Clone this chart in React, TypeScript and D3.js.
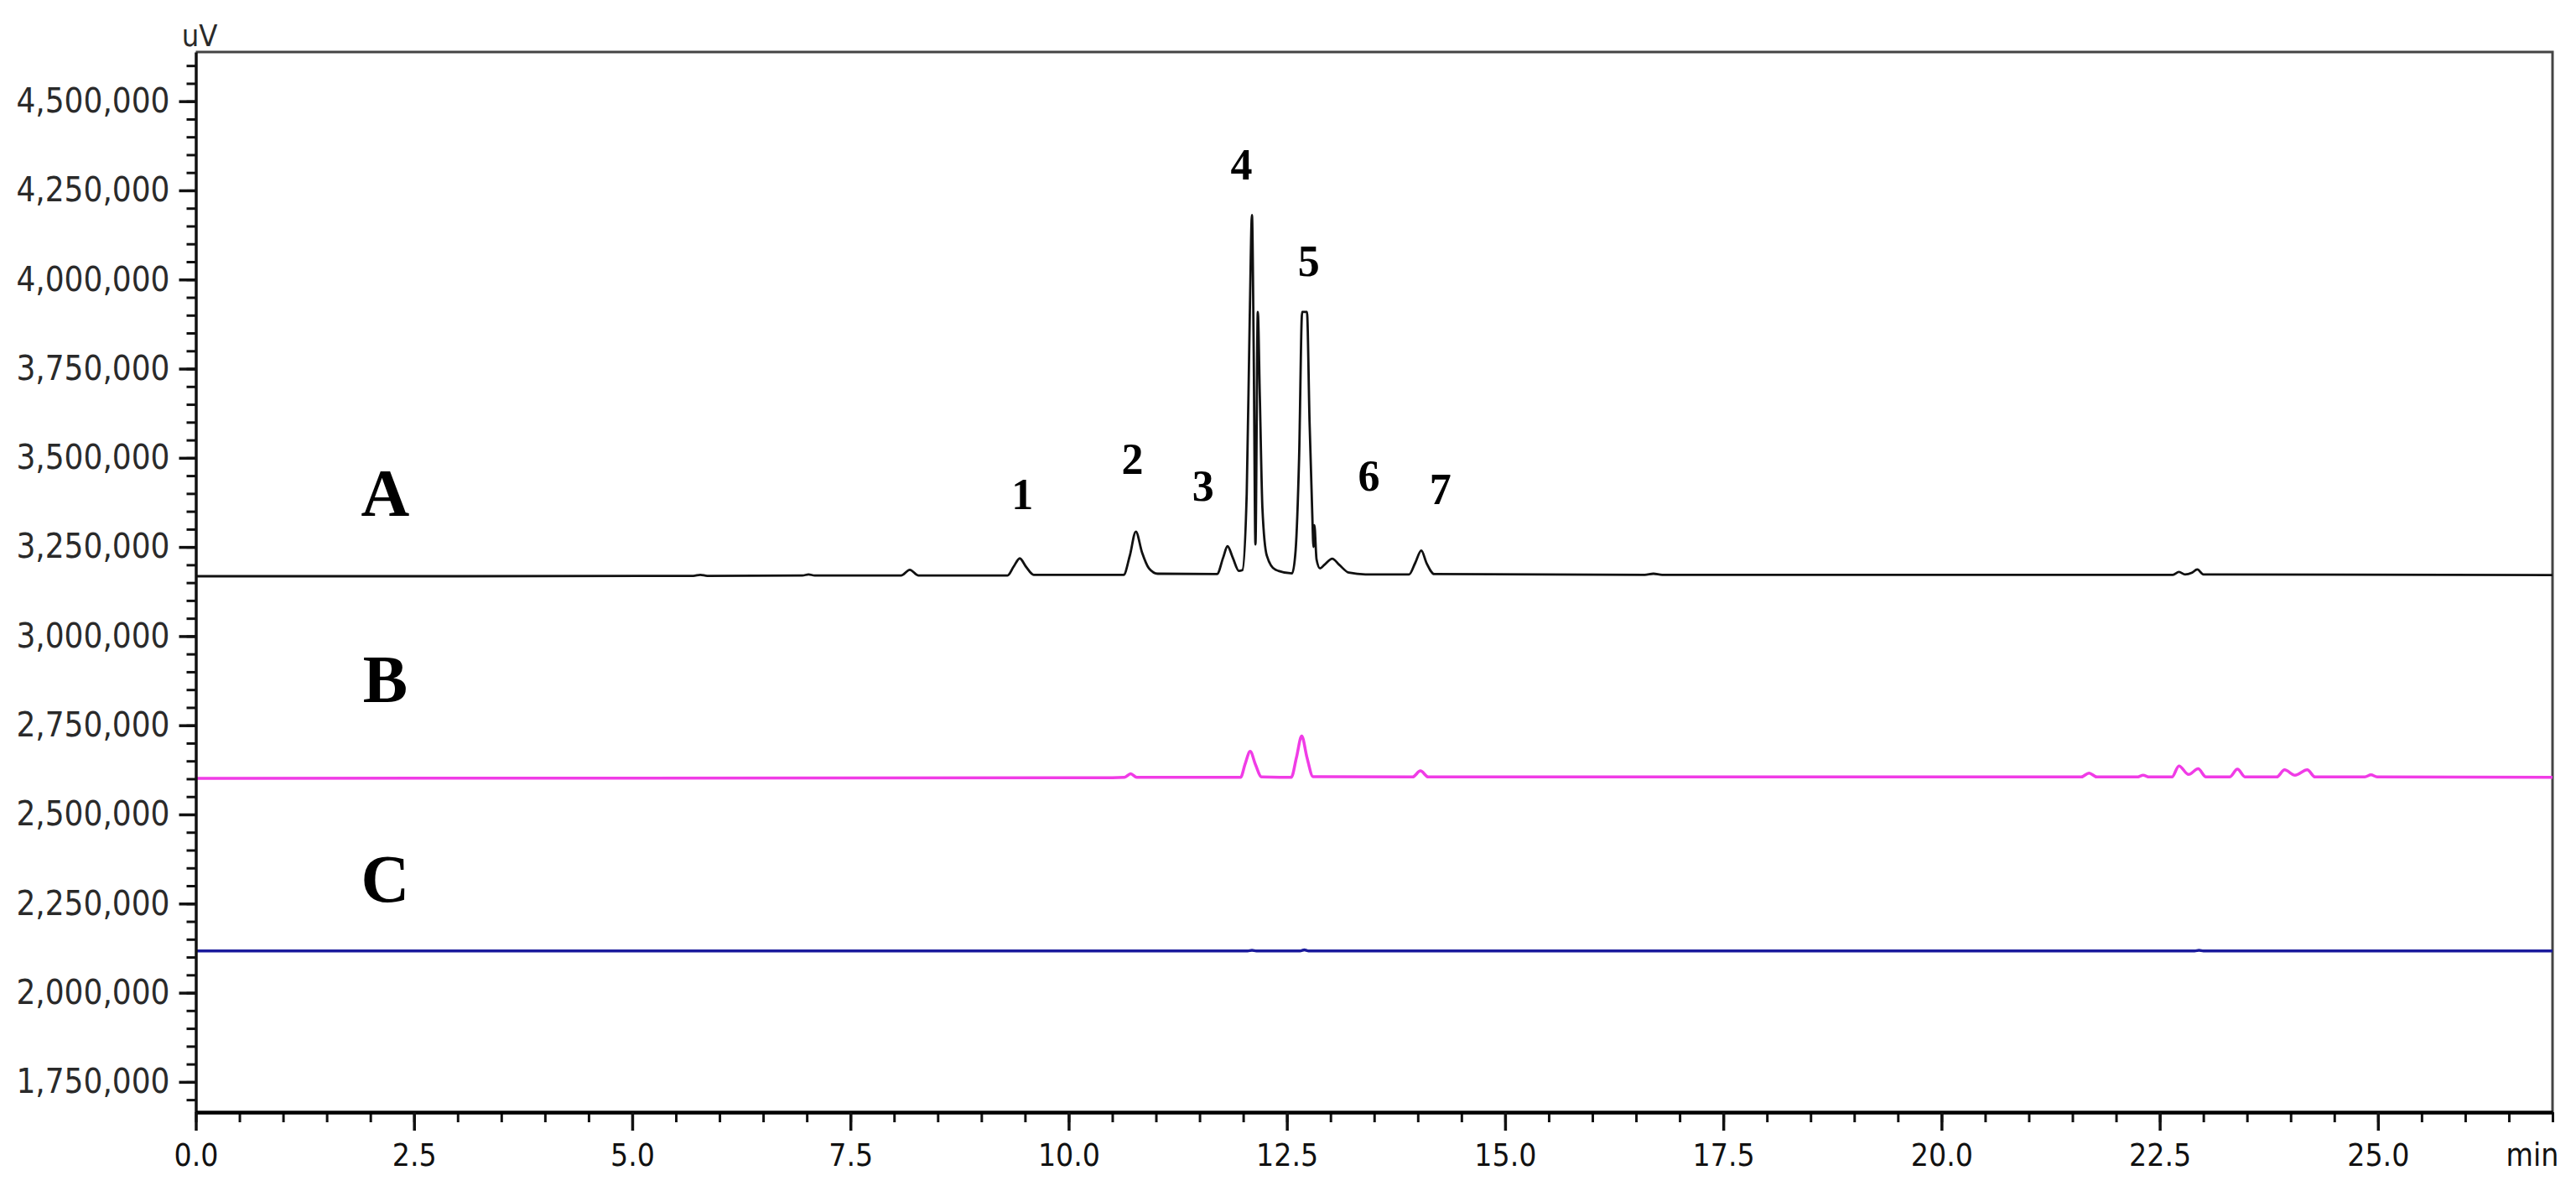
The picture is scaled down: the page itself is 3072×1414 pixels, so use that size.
import React, { useRef, useEffect } from 'react';
import * as d3 from 'd3';

// axis ranges (min, uV)
const xDomain = [0, 27];
const yDomain = [1665000, 4638000];
const xMajorTicks = [0, 2.5, 5, 7.5, 10, 12.5, 15, 17.5, 20, 22.5, 25];
const yMajorTicks = [1750000, 2000000, 2250000, 2500000, 2750000, 3000000, 3250000, 3500000, 3750000, 4000000, 4250000, 4500000];

// trace A (black) - [time, signal]
const traceA = [
    [0, 3168000], [3.0, 3168000],
    [5.7, 3169000], [5.78, 3172000], [5.86, 3169000],
    [6.95, 3170000], [7.02, 3173000], [7.09, 3170000],
    [8.08, 3170000], [8.18, 3186000], [8.28, 3170000],
    [9.30, 3170000], [9.37, 3195000], [9.44, 3218000], [9.51, 3195000], [9.60, 3172000],
    [10.63, 3172000], [10.70, 3225000], [10.77, 3293000], [10.84, 3235000], [10.92, 3190000], [11.02, 3175000],
    [11.70, 3174000], [11.77, 3220000], [11.82, 3252000], [11.88, 3220000], [11.95, 3183000], [11.99, 3185000],
    [12.04, 3400000], [12.075, 3900000], [12.10, 4181000], [12.12, 3800000], [12.14, 3257000],
    [12.167, 3909000], [12.19, 3673000], [12.22, 3358000], [12.27, 3226000], [12.37, 3186000], [12.56, 3176000],
    [12.60, 3240000], [12.64, 3500000], [12.675, 3909000], [12.73, 3909000], [12.76, 3600000], [12.79, 3350000],
    [12.805, 3250000], [12.815, 3311000], [12.84, 3215000], [12.88, 3190000], [12.93, 3200000],
    [13.02, 3217000], [13.10, 3200000], [13.21, 3178000], [13.40, 3173000],
    [13.90, 3173000], [13.97, 3205000], [14.04, 3240000], [14.10, 3205000], [14.19, 3174000],
    [16.6, 3172000], [16.7, 3175000], [16.8, 3172000],
    [22.65, 3172000], [22.72, 3180000], [22.79, 3173000], [22.87, 3178000], [22.93, 3187000], [23.0, 3173000],
    [27, 3171000],
];

// trace B (magenta)
const traceB = [
    [0, 2601000], [10.5, 2603000],
    [10.64, 2604000], [10.71, 2614000], [10.78, 2604000],
    [11.97, 2604000], [12.02, 2640000], [12.08, 2677000], [12.14, 2640000], [12.21, 2605000],
    [12.55, 2604000], [12.61, 2660000], [12.67, 2720000], [12.73, 2660000], [12.80, 2606000],
    [13.94, 2605000], [14.03, 2622000], [14.12, 2605000],
    [21.60, 2605000], [21.69, 2616000], [21.78, 2605000],
    [22.24, 2605000], [22.31, 2610000], [22.38, 2605000],
    [22.64, 2605000], [22.72, 2636000], [22.83, 2612000], [22.94, 2628000], [23.03, 2605000],
    [23.30, 2605000], [23.39, 2627000], [23.48, 2605000],
    [23.84, 2605000], [23.93, 2625000], [24.05, 2610000], [24.19, 2625000], [24.28, 2605000],
    [24.85, 2605000], [24.92, 2611000], [24.99, 2605000],
    [27, 2604000],
];

// trace C (blue)
const traceC = [
    [0, 2117000], [12.05, 2117000], [12.1, 2119000], [12.15, 2117000],
    [12.65, 2117000], [12.7, 2120000], [12.75, 2117000],
    [22.9, 2117000], [22.95, 2119000], [23.0, 2117000], [27, 2117000],
];

const traceNames = ['A', 'B', 'C'];
const traceNamePos = [[2.17, 3337000], [2.17, 2815000], [2.17, 2256000]];

const peakLabels = ['1', '2', '3', '4', '5', '6', '7'];
const peakLabelPos = [
    [9.47, 3355000], [10.73, 3454000], [11.54, 3379000], [11.98, 4281000],
    [12.75, 4011000], [13.44, 3409000], [14.26, 3370000],
];

const W = 3072;
const H = 1414;

export default function App() {
    const svgRef = useRef<SVGSVGElement>(null);

    useEffect(() => {
        const svg = d3.select(svgRef.current);
        svg.selectAll('*').remove();

        const x = d3.scaleLinear().domain(xDomain).range([233.5, 3044]);
        const y = d3.scaleLinear().domain(yDomain).range([1326, 62]);

        svg.append('rect').attr('width', W).attr('height', H).attr('fill', '#fff');

        // top / right frame
        svg.append('path')
            .attr('d', `M${x(0)},${y(yDomain[1])}H${x(xDomain[1])}V${y(yDomain[0])}`)
            .attr('fill', 'none')
            .attr('stroke', '#444')
            .attr('stroke-width', 3);

        const line = d3.line<number[]>()
            .x(d => x(d[0]))
            .y(d => y(d[1]))
            .curve(d3.curveMonotoneX);

        const traces = [
            { data: traceC, color: '#1a1a9c', width: 3.5 },
            { data: traceB, color: '#f03ce6', width: 3.5 },
            { data: traceA, color: '#111', width: 2.8 },
        ];
        traces.forEach(t => {
            svg.append('path')
                .attr('d', line(t.data))
                .attr('fill', 'none')
                .attr('stroke', t.color)
                .attr('stroke-width', t.width)
                .attr('stroke-linejoin', 'round');
        });

        const tickFont = "'DejaVu Sans Condensed', 'DejaVu Sans', sans-serif";

        // y axis
        const yMinor = svg.append('g')
            .attr('transform', `translate(${x(0)},0)`)
            .call(d3.axisLeft(y).tickValues(d3.range(1700000, 4600001, 50000)).tickSize(11).tickFormat(() => ''));
        yMinor.select('.domain').remove();
        yMinor.selectAll('line').attr('stroke', '#111').attr('stroke-width', 3);

        const yAxis = svg.append('g')
            .attr('transform', `translate(${x(0)},0)`)
            .call(d3.axisLeft(y).tickValues(yMajorTicks).tickSize(20).tickSizeOuter(0).tickPadding(11).tickFormat(d3.format(',')));
        yAxis.attr('font-size', 40).attr('font-family', tickFont).attr('font-stretch', 'condensed');
        yAxis.select('.domain').attr('stroke', '#111').attr('stroke-width', 3.5);
        yAxis.selectAll('line').attr('stroke', '#111').attr('stroke-width', 3.5);
        yAxis.selectAll('text').attr('fill', '#2a2a2a');

        // x axis
        const xMinor = svg.append('g')
            .attr('transform', `translate(0,${y(yDomain[0])})`)
            .call(d3.axisBottom(x).tickValues(d3.range(0, 54.5, 1).map(v => v / 2)).tickSize(12).tickFormat(() => ''));
        xMinor.select('.domain').remove();
        xMinor.selectAll('line').attr('stroke', '#111').attr('stroke-width', 3);

        const xAxis = svg.append('g')
            .attr('transform', `translate(0,${y(yDomain[0])})`)
            .call(d3.axisBottom(x).tickValues(xMajorTicks).tickSize(22).tickSizeOuter(0).tickPadding(16).tickFormat(d3.format('.1f')));
        xAxis.attr('font-size', 37).attr('font-family', tickFont).attr('font-stretch', 'condensed');
        xAxis.select('.domain').attr('stroke', '#000').attr('stroke-width', 4.5);
        xAxis.selectAll('line').attr('stroke', '#111').attr('stroke-width', 3.5);
        xAxis.selectAll('text').attr('fill', '#111');

        // units
        svg.append('text')
            .attr('x', 238).attr('y', 55)
            .attr('text-anchor', 'middle')
            .attr('font-family', tickFont).attr('font-stretch', 'condensed')
            .attr('font-size', 36).attr('fill', '#2a2a2a')
            .text('uV');
        svg.append('text')
            .attr('x', 3020).attr('y', 1390)
            .attr('text-anchor', 'middle')
            .attr('font-family', tickFont).attr('font-stretch', 'condensed')
            .attr('font-size', 37).attr('fill', '#111')
            .text('min');

        // trace names
        svg.selectAll('.trace-name')
            .data(traceNames)
            .enter()
            .append('text')
            .attr('class', 'trace-name')
            .attr('x', (d, i) => x(traceNamePos[i][0]))
            .attr('y', (d, i) => y(traceNamePos[i][1]))
            .attr('text-anchor', 'middle')
            .attr('font-family', "'Liberation Serif', 'Times New Roman', serif")
            .attr('font-weight', 'bold')
            .attr('font-size', 80)
            .attr('fill', '#000')
            .text(d => d);

        // peak numbers
        svg.selectAll('.peak-label')
            .data(peakLabels)
            .enter()
            .append('text')
            .attr('class', 'peak-label')
            .attr('x', (d, i) => x(peakLabelPos[i][0]))
            .attr('y', (d, i) => y(peakLabelPos[i][1]))
            .attr('text-anchor', 'middle')
            .attr('font-family', "'Liberation Serif', 'Times New Roman', serif")
            .attr('font-weight', 'bold')
            .attr('font-size', 52)
            .attr('fill', '#000')
            .text(d => d);
    }, []);

    return (
        <svg
            ref={svgRef}
            width={W}
            height={H}
            style={{ position: 'absolute', left: 0, top: 0, display: 'block' }}
        />
    );
}
